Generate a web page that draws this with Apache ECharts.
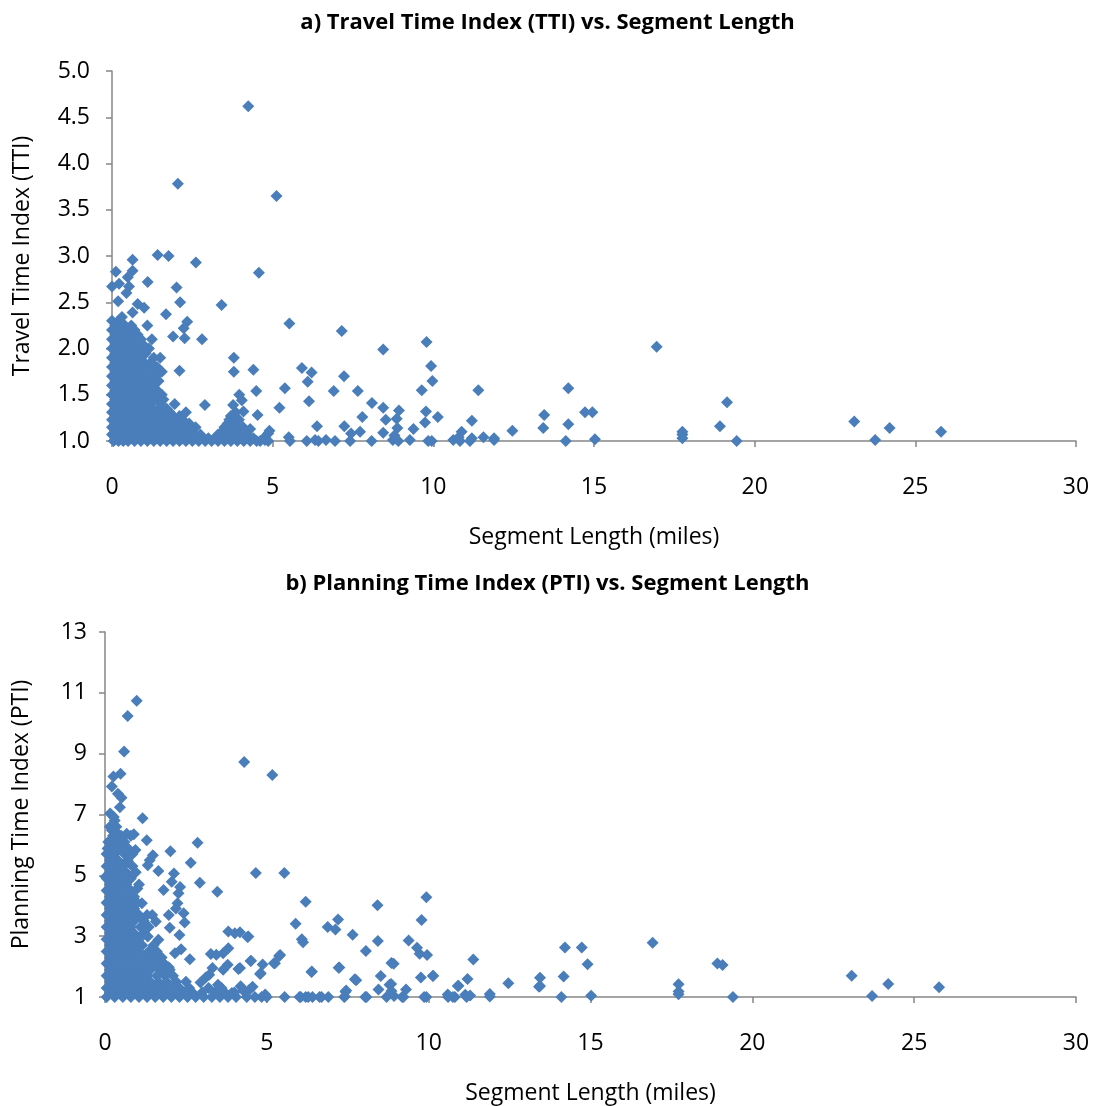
<!DOCTYPE html>
<html><head><meta charset="utf-8">
<script src="https://cdn.jsdelivr.net/npm/echarts@6/dist/echarts.min.js"></script>
<style>html,body{margin:0;padding:0;background:#fff}#c{width:1095px;height:1106px}</style>
</head><body><div id="c"></div>
<script>
// ---------- DATA ----------
const xTicks = [0, 5, 10, 15, 20, 25, 30];
const ttiTicks = [1.0, 1.5, 2.0, 2.5, 3.0, 3.5, 4.0, 4.5, 5.0];
const ptiTicks = [1, 3, 5, 7, 9, 11, 13];

// [segment length (miles), TTI]
const ttiPoints = [
  // sparse / outlying points
  [4.24,4.62],[2.05,3.78],[5.12,3.65],[0.64,2.96],[1.42,3.01],[1.76,3.0],[2.61,2.93],[0.12,2.83],[0.64,2.84],[4.57,2.82],
  [1.11,2.72],[0.49,2.77],[0.0,2.67],[0.22,2.70],[2.01,2.66],[0.53,2.67],[0.45,2.60],[2.12,2.50],[0.19,2.51],[0.8,2.48],[1.0,2.44],
  [3.41,2.47],[0.64,2.39],[1.68,2.37],[0.31,2.34],[2.34,2.29],[2.23,2.22],[1.1,2.25],[5.52,2.27],[7.15,2.19],[2.8,2.10],
  [1.9,2.13],[2.26,2.11],[1.24,2.10],[8.44,1.99],[9.79,2.07],[9.93,1.81],[9.97,1.65],[3.79,1.90],[3.79,1.75],[4.4,1.77],
  [2.1,1.76],[5.91,1.79],[6.21,1.74],[6.09,1.64],[7.22,1.70],[5.38,1.57],[4.49,1.54],[6.9,1.54],[7.65,1.54],[9.64,1.55],
  [11.4,1.55],[3.96,1.50],[4.04,1.44],[6.13,1.43],[8.09,1.41],[8.44,1.36],[8.93,1.33],[9.77,1.32],[5.21,1.36],[2.89,1.39],
  [3.77,1.39],[4.09,1.32],[4.53,1.28],[7.79,1.26],[8.52,1.23],[8.86,1.24],[10.14,1.26],[11.2,1.22],[9.74,1.20],[13.45,1.28],
  [13.42,1.14],[6.38,1.16],[7.23,1.16],[8.88,1.14],[9.38,1.13],[12.46,1.11],[8.44,1.09],[7.72,1.10],[7.44,1.08],[10.88,1.10],
  [8.79,1.06],[10.79,1.04],[11.56,1.04],[4.9,1.11],[4.3,1.13],[4.08,1.15],[4.75,1.04],[4.86,1.08],
  [4.61,1.0],[4.76,1.01],[4.86,1.0],[5.54,1.0],[5.5,1.04],[6.06,1.0],[6.32,1.01],[6.42,1.0],[6.66,1.01],[6.94,1.0],
  [7.41,1.0],[8.08,1.0],[8.74,1.01],[8.91,1.0],[9.27,1.01],[9.84,1.0],[9.95,1.0],[10.62,1.01],[10.83,1.0],[11.14,1.0],
  [11.2,1.03],[11.89,1.03],[11.89,1.01],
  [14.2,1.57],[14.72,1.31],[14.95,1.31],[14.2,1.18],[14.12,1.0],[15.03,1.02],[16.95,2.02],[17.75,1.10],[17.75,1.07],[17.75,1.03],
  [18.92,1.16],[19.14,1.42],[19.44,1.0],[23.1,1.21],[23.75,1.01],[24.2,1.14],[25.8,1.10],
  // dense cluster of short segments
  [0.05,1.00],[0.2,1.00],[0.35,1.00],[0.5,1.00],[0.7,1.00],[0.9,1.00],[1.1,1.00],[1.3,1.00],[1.5,1.00],[1.7,1.00],[1.9,1.00],[2.1,1.00],
  [2.3,1.00],[2.5,1.00],[2.7,1.00],[2.9,1.00],[3.1,1.00],[3.3,1.00],[3.5,1.00],[3.7,1.00],[3.9,1.00],[4.1,1.00],[4.3,1.00],[4.5,1.00],
  [0.1,1.03],[0.3,1.03],[0.6,1.03],[0.8,1.03],[1.0,1.03],[1.2,1.03],[1.4,1.03],[1.6,1.03],[1.8,1.03],[2.0,1.03],[2.2,1.03],[2.6,1.03],
  [3.0,1.03],[3.2,1.03],[3.4,1.03],[3.6,1.03],[3.8,1.03],[4.0,1.03],[4.4,1.03],
  [0.0,1.07],[0.25,1.07],[0.45,1.07],[0.65,1.07],[0.85,1.07],[1.05,1.07],[1.25,1.07],[1.45,1.07],[1.65,1.07],[1.85,1.07],[2.05,1.07],
  [2.4,1.07],[2.75,1.07],[3.3,1.07],[3.55,1.07],[3.75,1.07],[3.95,1.07],[4.2,1.07],
  [0.1,1.11],[0.3,1.11],[0.5,1.11],[0.7,1.11],[0.95,1.11],[1.15,1.11],[1.35,1.11],[1.55,1.11],[1.75,1.11],[1.95,1.11],[2.2,1.11],
  [2.5,1.11],[3.45,1.11],[3.65,1.11],[3.85,1.11],
  [0.0,1.15],[0.2,1.15],[0.4,1.15],[0.6,1.15],[0.8,1.15],[1.0,1.15],[1.2,1.15],[1.4,1.15],[1.6,1.15],[1.8,1.15],[2.0,1.15],[2.3,1.15],
  [2.6,1.15],[3.5,1.15],[3.7,1.15],[3.9,1.15],
  [0.1,1.19],[0.3,1.19],[0.5,1.19],[0.75,1.19],[0.95,1.19],[1.15,1.19],[1.35,1.19],[1.6,1.19],[1.85,1.19],[2.1,1.19],[2.4,1.19],
  [3.6,1.19],[3.8,1.19],
  [0.0,1.23],[0.2,1.23],[0.4,1.23],[0.6,1.23],[0.85,1.23],[1.05,1.23],[1.3,1.23],[1.5,1.23],[1.75,1.23],[2.0,1.23],[2.2,1.23],
  [3.65,1.23],[3.95,1.23],
  [0.1,1.27],[0.3,1.27],[0.55,1.27],[0.75,1.27],[0.95,1.27],[1.2,1.27],[1.4,1.27],[1.65,1.27],[1.9,1.27],[2.1,1.27],[3.7,1.27],
  [0.0,1.31],[0.2,1.31],[0.45,1.31],[0.65,1.31],[0.9,1.31],[1.1,1.31],[1.35,1.31],[1.55,1.31],[1.8,1.31],[2.3,1.31],[3.85,1.31],
  [0.1,1.35],[0.3,1.35],[0.5,1.35],[0.7,1.35],[0.85,1.35],[1.05,1.35],[1.25,1.35],[1.45,1.35],[1.7,1.35],
  [0.0,1.40],[0.2,1.40],[0.4,1.40],[0.6,1.40],[0.8,1.40],[1.0,1.40],[1.2,1.40],[1.5,1.40],[1.95,1.40],
  [0.1,1.45],[0.3,1.45],[0.5,1.45],[0.7,1.45],[0.9,1.45],[1.1,1.45],[1.35,1.45],[1.6,1.45],
  [0.0,1.50],[0.2,1.50],[0.4,1.50],[0.65,1.50],[0.85,1.50],[1.05,1.50],[1.25,1.50],[1.55,1.50],
  [0.1,1.55],[0.3,1.55],[0.5,1.55],[0.7,1.55],[0.95,1.55],[1.15,1.55],[1.4,1.55],
  [0.0,1.60],[0.2,1.60],[0.4,1.60],[0.6,1.60],[0.8,1.60],[1.0,1.60],[1.3,1.60],
  [0.1,1.65],[0.3,1.65],[0.55,1.65],[0.75,1.65],[0.9,1.65],[1.15,1.65],[1.45,1.65],
  [0.0,1.70],[0.2,1.70],[0.4,1.70],[0.6,1.70],[0.85,1.70],[1.05,1.70],[1.35,1.70],
  [0.1,1.75],[0.3,1.75],[0.5,1.75],[0.7,1.75],[0.95,1.75],[1.25,1.75],[1.55,1.75],
  [0.0,1.80],[0.2,1.80],[0.4,1.80],[0.65,1.80],[0.85,1.80],[1.1,1.80],[1.4,1.80],
  [0.1,1.85],[0.3,1.85],[0.5,1.85],[0.75,1.85],[1.0,1.85],[1.2,1.85],
  [0.0,1.90],[0.2,1.90],[0.45,1.90],[0.65,1.90],[0.9,1.90],[1.3,1.90],[1.5,1.90],
  [0.1,1.95],[0.35,1.95],[0.55,1.95],[0.8,1.95],[1.05,1.95],
  [0.0,2.00],[0.2,2.00],[0.4,2.00],[0.6,2.00],[0.85,2.00],[1.15,2.00],
  [0.1,2.05],[0.3,2.05],[0.5,2.05],[0.75,2.05],[0.95,2.05],
  [0.0,2.10],[0.2,2.10],[0.45,2.10],[0.65,2.10],[0.9,2.10],
  [0.1,2.15],[0.35,2.15],[0.6,2.15],[0.8,2.15],
  [0.0,2.20],[0.25,2.20],[0.5,2.20],[0.7,2.20],
  [0.1,2.25],[0.4,2.25],[0.6,2.25],
  [0.0,2.30],[0.2,2.30]
];

// [segment length (miles), PTI]
const ptiPoints = [
  // sparse / outlying points
  [0.98,10.74],[0.70,10.24],[0.59,9.07],[0.48,8.34],[0.26,8.25],[0.21,7.92],[0.40,7.68],[0.51,7.55],[0.46,7.24],[0.16,7.03],
  [0.27,6.92],[1.16,6.88],[4.30,8.73],[5.17,8.30],[0.21,6.48],[0.4,6.37],[0.89,6.35],[0.67,6.37],[1.29,6.15],[2.86,6.07],
  [0.08,5.88],[2.02,5.79],[0.94,5.83],[1.48,5.66],[1.38,5.50],[1.32,5.33],[2.65,5.41],[1.65,5.14],[2.13,5.06],[4.66,5.08],
  [5.54,5.08],[0.02,4.95],[2.93,4.76],[2.06,4.79],[2.32,4.62],[1.81,4.52],[1.0,4.57],[3.47,4.46],[2.27,4.41],[2.24,4.08],
  [1.14,4.08],[6.2,4.13],[8.42,4.02],[9.93,4.28],[2.19,3.91],[2.43,3.75],[1.97,3.70],[1.46,3.70],[2.46,3.45],[1.57,3.48],
  [5.89,3.41],[7.2,3.55],[6.88,3.30],[7.12,3.22],[9.78,3.53],[2.0,3.28],[2.3,3.04],[3.81,3.15],[4.01,3.10],[4.4,2.97],
  [7.65,3.05],[6.08,2.90],[6.12,2.80],[8.43,2.84],[9.38,2.86],[1.65,2.88],[1.32,2.99],[2.35,2.57],[2.16,2.44],[3.81,2.60],
  [3.65,2.44],[3.27,2.41],[3.44,2.39],[5.38,2.35],[5.22,2.11],[8.06,2.51],[9.64,2.62],[9.72,2.42],[9.95,2.38],[2.62,2.24],
  [1.63,2.28],[4.5,2.18],[4.87,2.07],[8.85,2.12],[8.92,2.09],[11.38,2.23],[4.12,1.92],[3.79,2.06],[3.65,1.90],[3.32,1.95],
  [3.22,1.73],[7.22,1.96],[1.97,1.98],[1.86,2.06],[1.48,2.22],[4.79,1.76],[6.38,1.82],[8.52,1.69],[10.13,1.69],[9.76,1.64],
  [3.11,1.64],[2.95,1.48],[7.72,1.58],[7.76,1.55],[11.2,1.59],[13.44,1.63],[10.9,1.36],[12.46,1.45],[13.41,1.34],[8.79,1.40],
  [8.45,1.25],[9.3,1.25],[7.43,1.17],[8.85,1.20],[8.93,1.03],[10.59,1.08],[10.75,1.0],[11.13,1.07],[11.89,1.10],[11.89,1.02],
  [9.86,1.0],[9.93,1.0],[9.18,1.0],[8.04,1.0],[7.39,1.0],[6.9,1.0],[6.63,1.0],[6.41,1.0],[6.2,1.0],[6.01,1.0],[5.55,1.0],
  [4.95,1.08],[4.46,1.24],[4.19,1.35],[3.92,1.13],[3.49,1.40],[4.56,1.34],[4.27,1.21],[4.17,1.95],[4.17,3.13],[4.43,2.99],
  [4.51,2.19],[5.25,2.11],[5.41,2.38],[4.81,1.78],[6.39,1.84],[7.24,1.97],[10.14,1.70],[10.92,1.37],[8.84,1.43],[7.45,1.21],
  [4.38,1.0],[4.63,1.0],[4.84,1.0],[5.0,1.0],[6.05,1.0],[6.28,1.0],[6.69,1.0],[7.41,1.02],[8.08,1.0],[8.7,1.0],[9.22,1.0],
  [10.6,1.0],[10.81,1.0],[11.17,1.0],[11.28,1.05],
  [14.21,2.63],[14.73,2.63],[16.92,2.78],[14.91,2.08],[14.17,1.67],[13.44,1.36],[14.1,1.0],[15.02,1.04],[17.72,1.42],
  [17.72,1.18],[17.72,1.09],[18.92,2.10],[19.08,2.05],[19.4,1.0],[23.07,1.70],[23.7,1.03],[24.2,1.43],[25.77,1.32],
  // dense cluster of short segments
  [0.05,1.0],[0.3,1.0],[0.55,1.0],[0.8,1.0],[1.05,1.0],[1.3,1.0],[1.55,1.0],[1.8,1.0],[2.05,1.0],[2.3,1.0],[2.55,1.0],
  [2.8,1.0],[3.05,1.0],[3.3,1.0],[3.55,1.0],[3.8,1.0],[4.05,1.0],
  [0.15,1.15],[0.4,1.15],[0.65,1.15],[0.9,1.15],[1.15,1.15],[1.4,1.15],[1.65,1.15],[1.9,1.15],[2.15,1.15],[2.4,1.15],
  [2.7,1.15],[3.0,1.15],[3.4,1.15],[3.7,1.15],[4.0,1.15],
  [0.05,1.3],[0.3,1.3],[0.55,1.3],[0.8,1.3],[1.05,1.3],[1.3,1.3],[1.55,1.3],[1.8,1.3],[2.05,1.3],[2.3,1.3],[2.6,1.3],
  [3.2,1.3],[3.6,1.3],
  [0.15,1.5],[0.4,1.5],[0.65,1.5],[0.9,1.5],[1.15,1.5],[1.4,1.5],[1.65,1.5],[1.9,1.5],[2.2,1.5],[2.5,1.5],
  [0.05,1.7],[0.3,1.7],[0.55,1.7],[0.8,1.7],[1.05,1.7],[1.3,1.7],[1.6,1.7],[1.85,1.7],[2.1,1.7],
  [0.15,1.9],[0.4,1.9],[0.65,1.9],[0.9,1.9],[1.15,1.9],[1.4,1.9],[1.7,1.9],[2.0,1.9],
  [0.05,2.1],[0.3,2.1],[0.55,2.1],[0.8,2.1],[1.05,2.1],[1.3,2.1],[1.55,2.1],[1.8,2.1],
  [0.15,2.3],[0.4,2.3],[0.65,2.3],[0.9,2.3],[1.2,2.3],[1.45,2.3],[1.75,2.3],
  [0.05,2.5],[0.3,2.5],[0.55,2.5],[0.8,2.5],[1.05,2.5],[1.35,2.5],[1.6,2.5],
  [0.15,2.7],[0.4,2.7],[0.65,2.7],[0.9,2.7],[1.15,2.7],[1.5,2.7],
  [0.05,2.9],[0.3,2.9],[0.55,2.9],[0.8,2.9],[1.05,2.9],
  [0.15,3.1],[0.4,3.1],[0.65,3.1],[0.9,3.1],[1.2,3.1],
  [0.05,3.3],[0.3,3.3],[0.55,3.3],[0.8,3.3],[1.1,3.3],[1.35,3.3],
  [0.15,3.5],[0.4,3.5],[0.65,3.5],[0.9,3.5],[1.2,3.5],
  [0.05,3.7],[0.3,3.7],[0.55,3.7],[0.8,3.7],[1.05,3.7],[1.3,3.7],
  [0.15,3.9],[0.4,3.9],[0.65,3.9],[0.9,3.9],
  [0.05,4.1],[0.3,4.1],[0.55,4.1],[0.8,4.1],[1.0,4.1],
  [0.15,4.3],[0.4,4.3],[0.65,4.3],[0.9,4.3],
  [0.05,4.5],[0.3,4.5],[0.55,4.5],[0.8,4.5],
  [0.15,4.7],[0.4,4.7],[0.65,4.7],[1.05,4.7],
  [0.05,4.9],[0.3,4.9],[0.55,4.9],[0.8,4.9],
  [0.15,5.1],[0.4,5.1],[0.65,5.1],[0.95,5.1],
  [0.05,5.3],[0.3,5.3],[0.55,5.3],[0.85,5.3],
  [0.15,5.5],[0.4,5.5],[0.7,5.5],
  [0.05,5.7],[0.3,5.7],[0.6,5.7],[0.85,5.7],
  [0.2,5.9],[0.45,5.9],[0.7,5.9],
  [0.1,6.1],[0.35,6.1],[0.6,6.1],
  [0.25,6.3],[0.5,6.3],[0.8,6.3],
  [0.15,6.6],[0.35,6.6],
  [0.3,6.8]
];

// ---------- CHART ----------
const FONT = '"Open Sans", Lato, sans-serif';
const MARK = '#4A7EBB';
const AXIS = '#868686';

function xAxisCfg(grid) {
  return {
    gridIndex: grid, type: 'value',
    min: xTicks[0], max: xTicks[xTicks.length - 1], interval: xTicks[1] - xTicks[0],
    name: 'Segment Length (miles)', nameLocation: 'middle', nameGap: 85,
    nameTextStyle: { fontFamily: FONT, fontSize: 23, color: '#000' },
    axisLine: { show: true, onZero: false, lineStyle: { color: AXIS, width: 1.5 } },
    axisTick: { show: true, length: 6, lineStyle: { color: AXIS, width: 1.5 } },
    axisLabel: { margin: 35, fontFamily: FONT, fontSize: 23, color: '#000' },
    splitLine: { show: false }
  };
}
function yAxisCfg(grid, ticks, name, gap, margin, dec) {
  return {
    gridIndex: grid, type: 'value',
    min: ticks[0], max: ticks[ticks.length - 1], interval: ticks[1] - ticks[0],
    name: name, nameLocation: 'middle', nameGap: gap, nameRotate: 90,
    nameTextStyle: { fontFamily: FONT, fontSize: 23, color: '#000' },
    axisLine: { show: true, onZero: false, lineStyle: { color: AXIS, width: 1.5 } },
    axisTick: { show: true, length: 6, lineStyle: { color: AXIS, width: 1.5 } },
    axisLabel: { margin: margin, fontFamily: FONT, fontSize: 23, color: '#000',
      formatter: v => v.toFixed(dec) },
    splitLine: { show: false }
  };
}

const chart = echarts.init(document.getElementById('c'), null, { renderer: 'canvas' });
chart.setOption({
  animation: false,
  backgroundColor: '#fff',
  title: [
    { text: 'a) Travel Time Index (TTI) vs. Segment Length', left: 'center', top: 7,
      textStyle: { fontFamily: FONT, fontWeight: 'bold', fontSize: 22, color: '#000' } },
    { text: 'b) Planning Time Index (PTI) vs. Segment Length', left: 'center', top: 568,
      textStyle: { fontFamily: FONT, fontWeight: 'bold', fontSize: 22, color: '#000' } }
  ],
  grid: [
    { left: 112, top: 71, width: 964, height: 370 },
    { left: 105, top: 632, width: 971, height: 366 }
  ],
  xAxis: [xAxisCfg(0), xAxisCfg(1)],
  yAxis: [
    yAxisCfg(0, ttiTicks, 'Travel Time Index (TTI)', 78, 22, 1),
    yAxisCfg(1, ptiTicks, 'Planning Time Index (PTI)', 72, 18, 0)
  ],
  series: [
    { type: 'scatter', xAxisIndex: 0, yAxisIndex: 0, data: ttiPoints, symbol: 'diamond',
      symbolSize: 12, clip: false, itemStyle: { color: MARK, opacity: 1 } },
    { type: 'scatter', xAxisIndex: 1, yAxisIndex: 1, data: ptiPoints, symbol: 'diamond',
      symbolSize: 12, clip: false, itemStyle: { color: MARK, opacity: 1 } }
  ]
});
</script></body></html>
